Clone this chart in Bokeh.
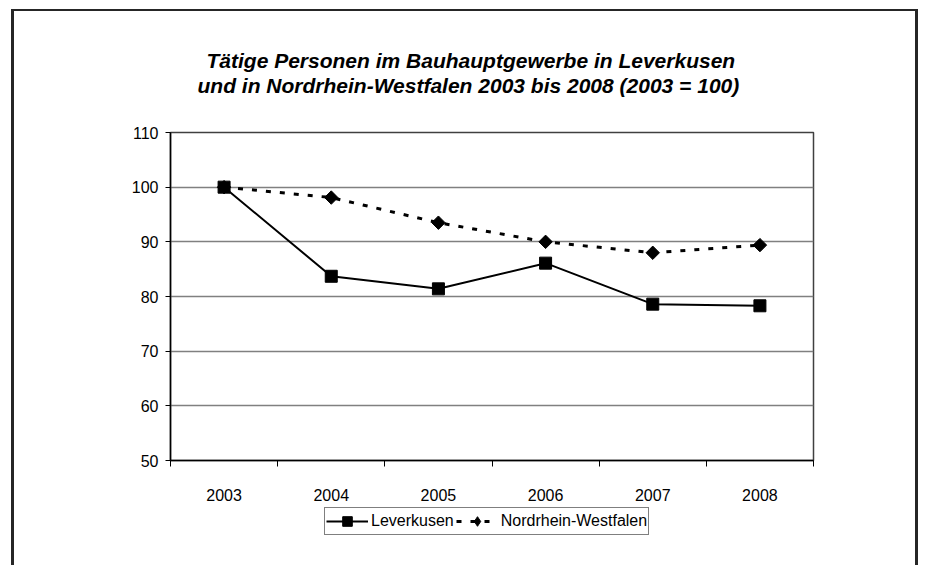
import math
from bokeh.plotting import figure
from bokeh.layouts import column
from bokeh.models import Range1d, FixedTicker, SingleIntervalTicker, Legend, LegendItem, Title
from bokeh.embed import file_html
from bokeh.resources import INLINE

# ---- data ----
years = [2003, 2004, 2005, 2006, 2007, 2008]
year_labels = ["2003", "2004", "2005", "2006", "2007", "2008"]
leverkusen = [100.0, 83.7, 81.4, 86.1, 78.6, 78.3]
nrw = [100.0, 98.1, 93.5, 90.0, 88.0, 89.4]
series_names = ["Leverkusen", "Nordrhein-Westfalen"]
title_lines = [
    "Tätige Personen im Bauhauptgewerbe in Leverkusen",
    "und in Nordrhein-Westfalen 2003 bis 2008 (2003 = 100)",
]
y_min, y_max, y_step = 50, 110, 10

FONT = "Liberation Sans"
LEV_STYLE = dict(line_color="black", line_width=2)
NRW_STYLE = dict(line_color="black", line_width=3, line_dash="5 9")
LEV_MARK = dict(marker="square", size=12, color="black")
NRW_MARK = dict(marker="square", angle=math.pi / 4, size=9.5, color="black")
NRW_MARK_LEGEND = dict(marker="diamond", size=12, color="black")

p = figure(
    width=901, height=494, output_backend="svg", toolbar_location=None, title=None,
    x_range=Range1d(years[0] - 0.5, years[-1] + 0.5),
    y_range=Range1d(y_min, y_max),
    min_border_left=156, min_border_right=102, min_border_top=121, min_border_bottom=45,
    background_fill_color="white", border_fill_color="white",
)

p.outline_line_color = "#404040"
p.outline_line_width = 1.5

p.xgrid.visible = False
p.ygrid.grid_line_color = "#808080"
p.ygrid.grid_line_width = 1.5

# y axis
p.yaxis.ticker = SingleIntervalTicker(interval=y_step, num_minor_ticks=0)
p.yaxis.axis_line_color = "black"
p.yaxis.axis_line_width = 1.5
p.yaxis.major_tick_out = 5
p.yaxis.major_tick_in = 0
p.yaxis.major_tick_line_color = "black"
p.yaxis.minor_tick_line_color = None
p.yaxis.major_label_standoff = 7
p.yaxis.major_label_text_font = FONT
p.yaxis.major_label_text_font_size = "16px"
p.yaxis.major_label_text_color = "black"

# x axis (ticks at category boundaries, labels at centres)
p.xaxis.ticker = FixedTicker(ticks=years,
                             minor_ticks=[y - 0.5 for y in years] + [years[-1] + 0.5])
p.xaxis.major_label_overrides = dict(zip(years, year_labels))
p.xaxis.axis_line_color = "black"
p.xaxis.axis_line_width = 1.5
p.xaxis.major_tick_out = 0
p.xaxis.major_tick_in = 0
p.xaxis.minor_tick_out = 6
p.xaxis.minor_tick_in = 0
p.xaxis.minor_tick_line_color = "black"
p.xaxis.minor_tick_line_width = 1
p.xaxis.major_label_standoff = 22
p.xaxis.major_label_text_font = FONT
p.xaxis.major_label_text_font_size = "16px"
p.xaxis.major_label_text_color = "black"

# series
p.line(years, leverkusen, **LEV_STYLE)
p.scatter(years, leverkusen, **LEV_MARK)
p.line(years, nrw, **NRW_STYLE)
p.scatter(years, nrw, **NRW_MARK)

# title: spacer next to the frame, then the two lines (stacked outward)
p.add_layout(Title(text=" ", text_font_size="30px", standoff=0), "above")
for line, off in [(title_lines[1], 27), (title_lines[0], 36)]:
    p.add_layout(Title(
        text=line, align="left", offset=off, standoff=0, vertical_align="middle",
        text_font=FONT, text_font_style="bold italic", text_font_size="21px",
        text_color="black",
    ), "above")

# ---- legend strip below the chart (frame aligned with the chart frame) ----
pl = figure(
    width=901, height=62, output_backend="svg", toolbar_location=None, title=None,
    x_range=Range1d(0, 1), y_range=Range1d(0, 1),
    x_axis_type=None, y_axis_type=None, min_border=0,
    background_fill_color="white", border_fill_color="white",
)
pl.outline_line_color = None
pl.grid.visible = False
# same series again; they lie outside this strip's ranges, so only the legend shows them
l1 = pl.line(years, leverkusen, **LEV_STYLE)
m1 = pl.scatter(years, leverkusen, **LEV_MARK)
l2 = pl.line(years, nrw, **NRW_STYLE)
m2 = pl.scatter(years, nrw, **NRW_MARK_LEGEND)

legend = Legend(
    items=[LegendItem(label=series_names[0], renderers=[l1, m1]),
           LegendItem(label=series_names[1], renderers=[l2, m2])],
    location=(154, 32), orientation="horizontal",
    border_line_color="black", border_line_width=1,
    background_fill_color="white", background_fill_alpha=1,
    label_text_font=FONT, label_text_font_size="16px", label_text_color="black",
    glyph_width=42, glyph_height=24, label_height=24,
    label_standoff=3, spacing=2, padding=1, margin=0,
)
pl.add_layout(legend)

layout = column(p, pl, spacing=0, styles={
    "margin-left": "14px", "margin-top": "11px",
    "box-shadow": "-3px -2px 0 0 #262626, 3px -2px 0 0 #262626",
})

open("out.html", "w").write(file_html(layout, INLINE))
